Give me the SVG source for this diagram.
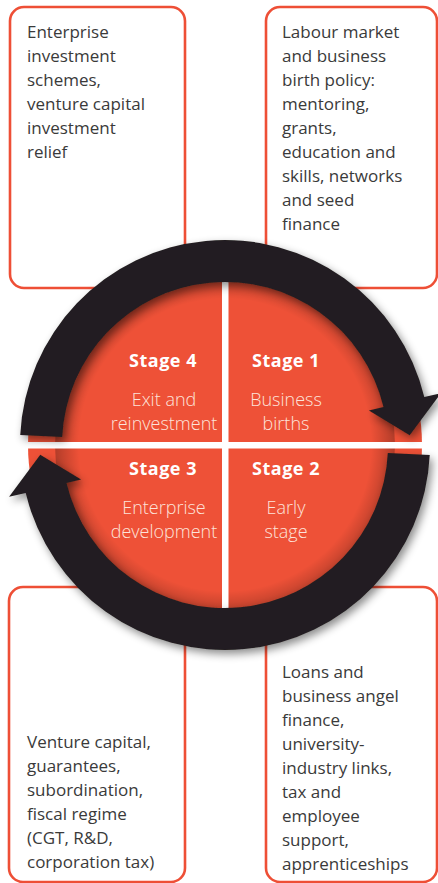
<svg xmlns="http://www.w3.org/2000/svg" width="438" height="883" viewBox="0 0 438 883">
<defs>
<style>
.box{fill:#fff;stroke:#ee4f36;stroke-width:2.6}
.bt{font-family:"Open Sans","Noto Sans",sans-serif;font-size:17px;fill:#3a3a3a}
.st{font-family:"Open Sans","Noto Sans",sans-serif;font-size:18px;font-weight:700;fill:#fff;text-anchor:middle;letter-spacing:0.5px}
.sd{font-family:"Open Sans","Noto Sans",sans-serif;font-size:18px;font-weight:300;fill:#fde3da;text-anchor:middle}
.arrow{fill:#231f20}
</style>
<filter id="sh" x="-20%" y="-20%" width="140%" height="140%">
<feDropShadow dx="3" dy="4" stdDeviation="4" flood-color="#000" flood-opacity="0.45"/>
</filter>
<radialGradient id="inner" gradientUnits="userSpaceOnUse" cx="225" cy="445" r="170">
<stop offset="0.86" stop-color="#000" stop-opacity="0"/>
<stop offset="1" stop-color="#000" stop-opacity="0.25"/>
</radialGradient>
</defs>
<g id="box-tl">
<rect class="box" x="10" y="7" width="175" height="281" rx="14"/>
<text class="bt"><tspan x="27" y="38">Enterprise</tspan><tspan x="27" y="62">investment</tspan><tspan x="27" y="86">schemes,</tspan><tspan x="27" y="110">venture capital</tspan><tspan x="27" y="134">investment</tspan><tspan x="27" y="158">relief</tspan></text>
</g>
<g id="box-tr">
<rect class="box" x="266" y="7" width="171" height="281" rx="14"/>
<text class="bt"><tspan x="282" y="38">Labour market</tspan><tspan x="282" y="62">and business</tspan><tspan x="282" y="86">birth policy:</tspan><tspan x="282" y="110">mentoring,</tspan><tspan x="282" y="134">grants,</tspan><tspan x="282" y="158">education and</tspan><tspan x="282" y="182">skills, networks</tspan><tspan x="282" y="206">and seed</tspan><tspan x="282" y="230">finance</tspan></text>
</g>
<g id="box-bl">
<rect class="box" x="9" y="587" width="176" height="295" rx="14"/>
<text class="bt"><tspan x="27" y="748">Venture capital,</tspan><tspan x="27" y="772">guarantees,</tspan><tspan x="27" y="796">subordination,</tspan><tspan x="27" y="820">fiscal regime</tspan><tspan x="27" y="844">(CGT, R&amp;D,</tspan><tspan x="27" y="868">corporation tax)</tspan></text>
</g>
<g id="box-br">
<rect class="box" x="266" y="587" width="171" height="295" rx="14"/>
<text class="bt"><tspan x="282" y="678">Loans and</tspan><tspan x="282" y="702">business angel</tspan><tspan x="282" y="726">finance,</tspan><tspan x="282" y="750">university-</tspan><tspan x="282" y="774">industry links,</tspan><tspan x="282" y="798">tax and</tspan><tspan x="282" y="822">employee</tspan><tspan x="282" y="846">support,</tspan><tspan x="282" y="870">apprenticeships</tspan></text>
</g>
<g id="cycle">
<circle cx="225" cy="445" r="197" fill="#ee5137"/>
<circle cx="225" cy="445" r="170" fill="url(#inner)"/>
<rect x="222" y="240" width="6.5" height="410" fill="#fff"/>
<rect x="0" y="442" width="438" height="6.5" fill="#fff"/>
</g>
<g id="connectors" filter="url(#sh)">
<path class="arrow" d="M20.24,434.99 A205,205 0 0 1 424.3,397.1 L440.9,393.2 L409.7,435.3 L368.9,410.45 L383.5,406.95 A163,163 0 0 0 62.19,437.04 Z"/>
<path class="arrow" d="M429.76,455.01 A205,205 0 0 1 25.7,492.9 L9.1,496.8 L40.25,454.7 L81.1,479.55 L66.5,483.05 A163,163 0 0 0 387.81,452.96 Z"/>
</g>
<g id="stage4">
<text class="st" x="163" y="367">Stage 4</text>
<text class="sd" x="164" y="406">Exit and</text>
<text class="sd" x="164" y="430">reinvestment</text>
</g>
<g id="stage1">
<text class="st" x="286" y="367">Stage 1</text>
<text class="sd" x="286" y="406">Business</text>
<text class="sd" x="286" y="430">births</text>
</g>
<g id="stage3">
<text class="st" x="163" y="475">Stage 3</text>
<text class="sd" x="164" y="514">Enterprise</text>
<text class="sd" x="164" y="538">development</text>
</g>
<g id="stage2">
<text class="st" x="286" y="475">Stage 2</text>
<text class="sd" x="286" y="514">Early</text>
<text class="sd" x="286" y="538">stage</text>
</g>
</svg>
